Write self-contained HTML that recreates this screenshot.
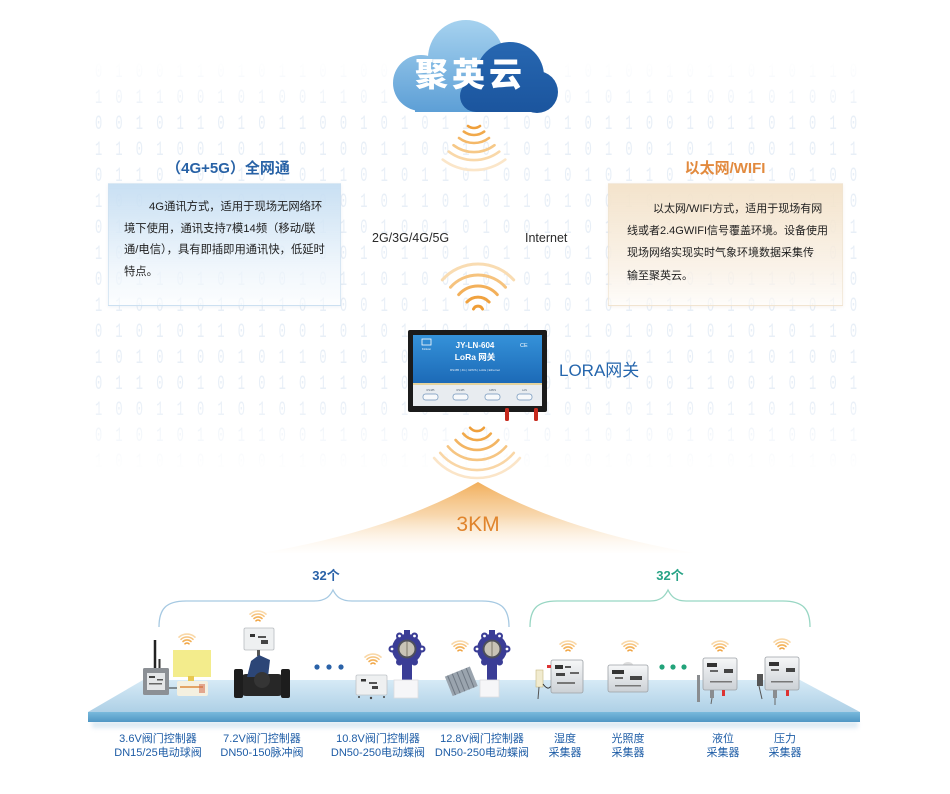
<!DOCTYPE html>
<html><head><meta charset="utf-8">
<style>
html,body{margin:0;padding:0;background:#fff;}
#wrap{position:relative;width:950px;height:794px;overflow:hidden;background:#fff;font-family:"Liberation Sans","Noto Sans CJK SC",sans-serif;}
#bg{position:absolute;left:95px;top:60px;width:770px;height:412px;overflow:hidden;-webkit-mask-image:linear-gradient(to bottom,transparent 0,#000 14%,#000 82%,transparent 100%);mask-image:linear-gradient(to bottom,transparent 0,#000 14%,#000 82%,transparent 100%);}
#bg pre{margin:0;font:20px/26px "Liberation Mono",monospace;letter-spacing:22px;color:#e8eff7;transform:scaleX(0.6);transform-origin:0 0;width:1300px;}
.box{position:absolute;height:121px;}
.box div{position:absolute;white-space:nowrap;color:#1e1e1e;line-height:22px;font-family:"Liberation Sans","Noto Sans CJK SC",sans-serif;}
#lb{left:108px;top:183px;width:231px;background:linear-gradient(to bottom,rgba(196,221,242,0.92),rgba(236,244,251,0.75) 70%,rgba(250,252,254,0.6));border:1px solid rgba(205,224,240,0.7);box-shadow:0 1px 3px rgba(120,150,180,0.12);}
#lb div{font-size:11.3px;}
#rb{left:608px;top:183px;width:233px;background:linear-gradient(to bottom,rgba(243,226,201,0.95),rgba(249,240,228,0.8) 70%,rgba(253,250,246,0.6));border:1px solid rgba(240,228,210,0.7);box-shadow:0 1px 3px rgba(180,150,120,0.12);}
#rb div{font-size:11px;}
</style></head><body><div id="wrap">

<div id="bg"><pre>01001101011010011100101101001011010110
10110010100110101001011010110100101001
00101101011001010110100101100101101010
11010010110100110010101101001011001011
01101001010110101101001010110100110100
10010110101001011010110100101001011010
01011010010110100101001101011010100101
10100101101001011010110010100101101001
00110101001011010010101101010010110110
11001010110100101101010010101101001010
01010110100101011010010110100101010110
10101001011010100101101001011010101001
01100101010110101001010110100110010101
10011010101001010110101001011001101010
01010101100110100101010110100101010011
10101010011001011010101001011010101100</pre></div>

<div class="box" id="lb">
  <div style="left:40px;top:12px;">4G通讯方式，适用于现场无网络环</div>
  <div style="left:15px;top:34px;">境下使用，通讯支持7模14频（移动/联</div>
  <div style="left:15px;top:55px;">通/电信），具有即插即用通讯快，低延时</div>
  <div style="left:15px;top:77px;">特点。</div>
</div>
<div class="box" id="rb">
  <div style="left:44px;top:14px;">以太网/WIFI方式，适用于现场有网</div>
  <div style="left:18px;top:36px;">线或者2.4GWIFI信号覆盖环境。设备使用</div>
  <div style="left:18px;top:58px;">现场网络实现实时气象环境数据采集传</div>
  <div style="left:18px;top:81px;">输至聚英云。</div>
</div>

<svg width="950" height="794" style="position:absolute;left:0;top:0" font-family="'Liberation Sans','Noto Sans CJK SC',sans-serif">
<defs>
  <linearGradient id="lc" x1="0" y1="20" x2="0" y2="112" gradientUnits="userSpaceOnUse"><stop offset="0" stop-color="#a6d2ef"/><stop offset="1" stop-color="#5d9fd6"/></linearGradient>
  <linearGradient id="dc" x1="0" y1="42" x2="0" y2="112" gradientUnits="userSpaceOnUse"><stop offset="0" stop-color="#2767b1"/><stop offset="1" stop-color="#1b559e"/></linearGradient>
  <linearGradient id="fan" x1="0" y1="482" x2="0" y2="556" gradientUnits="userSpaceOnUse"><stop offset="0" stop-color="#f1aa52" stop-opacity="0.95"/><stop offset="0.45" stop-color="#f5c68a" stop-opacity="0.7"/><stop offset="1" stop-color="#fdf1e2" stop-opacity="0"/></linearGradient>
  <linearGradient id="ptop" x1="0" y1="680" x2="0" y2="712" gradientUnits="userSpaceOnUse"><stop offset="0" stop-color="#d6eaf6"/><stop offset="1" stop-color="#aed0e6"/></linearGradient>
  <linearGradient id="pfront" x1="0" y1="712" x2="0" y2="723" gradientUnits="userSpaceOnUse"><stop offset="0" stop-color="#79b9dc"/><stop offset="1" stop-color="#4b93c1"/></linearGradient>
  <linearGradient id="gw" x1="0" y1="335" x2="0" y2="383" gradientUnits="userSpaceOnUse"><stop offset="0" stop-color="#3592d9"/><stop offset="1" stop-color="#1c6ab7"/></linearGradient>
  <linearGradient id="bx" x1="0" y1="0" x2="0" y2="1"><stop offset="0" stop-color="#f6f7f8"/><stop offset="1" stop-color="#ccd1d6"/></linearGradient>
  <filter id="bl" x="-10%" y="-100%" width="120%" height="300%"><feGaussianBlur stdDeviation="2"/></filter>
  <g id="wf" fill="none" stroke-width="1.6" stroke-linecap="round">
    <path d="M-2,-2.2 A3,3 0 0 1 2,-2.2" stroke="#f0a23f"/>
    <path d="M-4,-4.5 A6,6 0 0 1 4,-4.5" stroke="#f3b25a"/>
    <path d="M-6,-6.7 A9,9 0 0 1 6,-6.7" stroke="#f6c47f"/>
    <path d="M-8,-8.9 A12,12 0 0 1 8,-8.9" stroke="#f9d8a8"/>
  </g>
</defs>

<!-- cloud -->
<g fill="url(#lc)">
  <circle cx="466" cy="58" r="38"/>
  <circle cx="421" cy="83" r="28"/>
  <rect x="415" y="80" width="90" height="32"/>
</g>
<g fill="url(#dc)">
  <circle cx="510" cy="76" r="34"/>
  <circle cx="537" cy="92" r="21"/>
  <circle cx="476" cy="96" r="16"/>
  <rect x="476" y="90" width="62" height="22"/>
</g>
<text x="415" y="86" font-size="33" font-weight="900" fill="#fff" letter-spacing="4" font-family="'Noto Sans CJK SC',sans-serif">聚英云</text>

<!-- cloud wifi (down) -->
<g fill="none" stroke-width="2.6" stroke-linecap="round">
  <path d="M468,126 A10,10 0 0 0 480,126" stroke="#ef9f3a"/>
  <path d="M463.8,131.6 A17,17 0 0 0 484.2,131.6" stroke="#f1a94b"/>
  <path d="M459,138 A25,25 0 0 0 489,138" stroke="#f4b868"/>
  <path d="M453.5,145.2 A34,34 0 0 0 494.5,145.2" stroke="#f6c887"/>
  <path d="M448.7,151.6 A42,42 0 0 0 499.3,151.6" stroke="#f9d8a9"/>
  <path d="M442.7,159.6 A52,52 0 0 0 505.3,159.6" stroke="#fbe6c9"/>
</g>

<!-- headings -->
<text x="228" y="173" font-size="15" font-weight="bold" fill="#2862a6" text-anchor="middle">（4G+5G）全网通</text>
<text x="725" y="173" font-size="15" font-weight="bold" fill="#e28a3e" text-anchor="middle">以太网/WIFI</text>

<text x="372" y="242" font-size="12.5" fill="#2a2a2a">2G/3G/4G/5G</text>
<text x="525" y="242" font-size="12.5" fill="#2a2a2a">Internet</text>

<!-- middle wifi (up) -->
<g fill="none" stroke-width="3" stroke-linecap="round">
  <path d="M442.3,279.9 A48,48 0 0 1 513.7,279.9" stroke="#f9dcb2"/>
  <path d="M450.5,287.2 A37,37 0 0 1 505.5,287.2" stroke="#f6c37e"/>
  <path d="M458.7,294.6 A26,26 0 0 1 497.3,294.6" stroke="#f3b05a"/>
  <path d="M466.9,302 A15,15 0 0 1 489.1,302" stroke="#f0a23f"/>
</g>
<path d="M473.5,309 A5,5 0 0 1 482.5,309" fill="none" stroke="#ef9d36" stroke-width="3" stroke-linecap="round"/>

<!-- gateway -->
<rect x="408" y="330" width="139" height="82" rx="2" fill="#1b1b1b"/>
<rect x="413" y="335" width="129" height="48" fill="url(#gw)"/>
<rect x="413" y="383" width="129" height="2" fill="#e4d39e"/>
<rect x="413" y="385" width="129" height="21" fill="#e8ecf0"/>
<text x="475" y="348" font-size="8" font-weight="bold" fill="#fff" text-anchor="middle">JY-LN-604</text>
<text x="475" y="360" font-size="8.5" font-weight="bold" fill="#fff" text-anchor="middle">LoRa 网关</text>
<text x="475" y="371" font-size="3" fill="#e3ecf7" text-anchor="middle">RS485 | 4G | GPRS | LoRa | Ethernet</text>
<rect x="422" y="339" width="9" height="6" fill="none" stroke="#fff" stroke-width=".8"/>
<text x="426.5" y="350" font-size="3" fill="#fff" text-anchor="middle">Kinkon</text>
<text x="520" y="347" font-size="5.5" fill="#fff">CE</text>
<g fill="#f7f9fb" stroke="#6f93ba" stroke-width=".7">
  <rect x="423" y="394" width="15" height="6" rx="2.5"/>
  <rect x="453" y="394" width="15" height="6" rx="2.5"/>
  <rect x="485" y="394" width="15" height="6" rx="2.5"/>
  <rect x="517" y="394" width="15" height="6" rx="2.5"/>
</g>
<g font-size="2.6" fill="#567" text-anchor="middle">
  <text x="430.5" y="391">RS485</text><text x="460.5" y="391">RS485</text><text x="492.5" y="391">GPRS</text><text x="524.5" y="391">LAN</text>
</g>
<rect x="505" y="408" width="4" height="13" rx="1.5" fill="#c62a1e"/>
<rect x="534" y="408" width="4" height="13" rx="1.5" fill="#c62a1e"/>

<text x="559" y="376" font-size="17" fill="#2566ad">LORA网关</text>

<!-- gateway wifi (down) -->
<g fill="none" stroke-width="2.6" stroke-linecap="round">
  <path d="M470.1,427.8 A9,9 0 0 0 483.9,427.8" stroke="#ef9f3a"/>
  <path d="M463.2,433.6 A18,18 0 0 0 490.8,433.6" stroke="#f1a94a"/>
  <path d="M455.6,440 A28,28 0 0 0 498.4,440" stroke="#f3b563"/>
  <path d="M447.9,446.4 A38,38 0 0 0 506.1,446.4" stroke="#f6c582"/>
  <path d="M440.2,452.9 A48,48 0 0 0 513.8,452.9" stroke="#f9d6a6"/>
  <path d="M434.1,458 A56,56 0 0 0 519.9,458" stroke="#fbe5c8"/>
</g>

<!-- fan -->
<path d="M478,482 Q395,530 262,553 L694,553 Q561,530 478,482 Z" fill="url(#fan)"/>
<text x="478" y="531" font-size="21" fill="#e0842c" text-anchor="middle">3KM</text>

<!-- counts & braces -->
<text x="326" y="580" font-size="13" font-weight="bold" fill="#2a62a8" text-anchor="middle">32个</text>
<text x="670" y="580" font-size="13" font-weight="bold" fill="#27a386" text-anchor="middle">32个</text>
<path d="M159,627 C159,609 166,601 186,601 L314,601 C326,601 330,596 333,590 C336,596 340,601 352,601 L482,601 C502,601 509,609 509,627" fill="none" stroke="#a6c9e2" stroke-width="1.3"/>
<path d="M530,627 C530,609 537,601 557,601 L650,601 C661,601 665,596 668,590 C671,596 675,601 686,601 L783,601 C803,601 810,609 810,627" fill="none" stroke="#98d6c3" stroke-width="1.3"/>

<!-- platform -->
<rect x="92" y="721" width="766" height="7" fill="#cfe2ee" opacity=".7" filter="url(#bl)"/>
<polygon points="143,680 800,680 860,712 88,712" fill="url(#ptop)"/>
<polygon points="88,712 860,712 860,722 88,722" fill="url(#pfront)"/>

<!-- device group 1 -->
<line x1="155" y1="640" x2="155" y2="669" stroke="#222" stroke-width="2.5"/>
<line x1="159.5" y1="659" x2="159.5" y2="669" stroke="#333" stroke-width="2"/>
<rect x="143" y="668" width="26" height="27" rx="1.5" fill="#8c9095"/>
<rect x="147" y="673" width="18" height="17" fill="#e4e6e8"/>
<rect x="149" y="676" width="6" height="2" fill="#444"/><rect x="157" y="679" width="6" height="1.5" fill="#555"/><rect x="149" y="683" width="13" height="1.5" fill="#666"/>
<path d="M169,688 L178,688" stroke="#333" stroke-width="1"/>
<rect x="173" y="650" width="38" height="27" fill="#f3ec8c"/>
<rect x="188" y="676" width="6" height="5" fill="#e8c850"/>
<rect x="177" y="681" width="31" height="15" rx="2" fill="#f4f0e0"/>
<rect x="180" y="686" width="23" height="2" fill="#e3a466"/>
<rect x="199" y="684" width="6" height="9" fill="#d46a4a" opacity=".55"/>

<!-- device group 2 -->
<rect x="244" y="628" width="30" height="22" rx="1.5" fill="#eef0f1" stroke="#b8bcc0" stroke-width=".8"/>
<rect x="250" y="634" width="5" height="3" fill="#333"/><rect x="258" y="636" width="8" height="2" fill="#555"/><rect x="261" y="640" width="7" height="4" fill="#444"/>
<rect x="257" y="650" width="3" height="6" fill="#555"/>
<rect x="240" y="674" width="44" height="22" rx="6" fill="#272727"/>
<rect x="234" y="669" width="9" height="29" rx="2" fill="#1d1d1d"/>
<rect x="281" y="669" width="9" height="29" rx="2" fill="#1d1d1d"/>
<path d="M247,677 L251,661 L259,655 L270,660 L268,677 Z" fill="#2c4677"/>
<circle cx="262" cy="680" r="8" fill="#353535"/>

<!-- blue dots -->
<g fill="#2a62a8"><circle cx="317" cy="667" r="2.6"/><circle cx="329" cy="667" r="2.6"/><circle cx="341" cy="667" r="2.6"/></g>

<!-- device group 4 -->
<rect x="356" y="675" width="31" height="20" rx="1.5" fill="#eef0f1" stroke="#c0c4c8" stroke-width=".8"/>
<rect x="361" y="679" width="5" height="2.5" fill="#333"/><rect x="369" y="682" width="8" height="2" fill="#555"/><rect x="372" y="686" width="6" height="3" fill="#444"/>
<g fill="#444"><circle cx="359" cy="697" r="1"/><circle cx="371" cy="698" r="1.2"/><circle cx="384" cy="697" r="1"/></g>
<g>
  <rect x="404" y="630" width="6" height="5" fill="#3a3d96"/>
  <circle cx="407" cy="649" r="15" fill="#3a3d96"/>
  <g fill="#3a3d96"><circle cx="392" cy="649" r="3.5"/><circle cx="422" cy="649" r="3.5"/><circle cx="399.5" cy="636" r="3.5"/><circle cx="414.5" cy="636" r="3.5"/><circle cx="399.5" cy="662" r="3.5"/><circle cx="414.5" cy="662" r="3.5"/></g>
  <g fill="#fff"><circle cx="392" cy="649" r="1.4"/><circle cx="422" cy="649" r="1.4"/><circle cx="399.5" cy="636" r="1.4"/><circle cx="414.5" cy="636" r="1.4"/></g>
  <circle cx="407" cy="649" r="9.5" fill="#4d4f5c"/>
  <circle cx="407" cy="649" r="7.5" fill="#c8c3b6"/>
  <line x1="407" y1="641.5" x2="407" y2="656.5" stroke="#8a8578" stroke-width="1.2"/>
  <rect x="402" y="663" width="10" height="18" fill="#3a3d96"/>
  <rect x="394" y="680" width="24" height="18" fill="#f6f6f8" stroke="#dcdce0" stroke-width=".8"/>
</g>

<!-- device group 5 -->
<g transform="rotate(-22 461 682)">
  <rect x="448" y="671" width="27" height="21" fill="#9aa4ae"/>
  <g stroke="#6e7883" stroke-width="1"><line x1="451" y1="671" x2="451" y2="692"/><line x1="456" y1="671" x2="456" y2="692"/><line x1="461" y1="671" x2="461" y2="692"/><line x1="466" y1="671" x2="466" y2="692"/><line x1="471" y1="671" x2="471" y2="692"/></g>
</g>
<g>
  <rect x="489" y="630" width="6" height="5" fill="#3a3d96"/>
  <circle cx="492" cy="649" r="15" fill="#3a3d96"/>
  <g fill="#3a3d96"><circle cx="477" cy="649" r="3.5"/><circle cx="507" cy="649" r="3.5"/><circle cx="484.5" cy="636" r="3.5"/><circle cx="499.5" cy="636" r="3.5"/><circle cx="484.5" cy="662" r="3.5"/><circle cx="499.5" cy="662" r="3.5"/></g>
  <g fill="#fff"><circle cx="477" cy="649" r="1.4"/><circle cx="507" cy="649" r="1.4"/><circle cx="484.5" cy="636" r="1.4"/><circle cx="499.5" cy="636" r="1.4"/></g>
  <circle cx="492" cy="649" r="9.5" fill="#4d4f5c"/>
  <circle cx="492" cy="649" r="7.5" fill="#c8c3b6"/>
  <line x1="492" y1="641.5" x2="492" y2="656.5" stroke="#8a8578" stroke-width="1.2"/>
  <rect x="487" y="663" width="10" height="18" fill="#3a3d96"/>
  <rect x="480" y="680" width="19" height="17" fill="#f6f6f8" stroke="#dcdce0" stroke-width=".8"/>
</g>

<!-- sensors -->
<rect x="536" y="670" width="7" height="17" fill="#f1ebcf" stroke="#c9b880" stroke-width=".6"/>
<path d="M543,684 Q548,691 551,686" fill="none" stroke="#333" stroke-width="1"/>
<line x1="539" y1="687" x2="538" y2="699" stroke="#555" stroke-width="1"/>
<rect x="551" y="660" width="32" height="33" rx="2" fill="url(#bx)" stroke="#9ca1a6" stroke-width=".8"/>
<rect x="555" y="665" width="8" height="4" fill="#333"/><rect x="565" y="666" width="6" height="2" fill="#555"/><rect x="556" y="673" width="9" height="3" fill="#444"/><rect x="570" y="672" width="9" height="2" fill="#666"/><rect x="557" y="682" width="18" height="2" fill="#777"/>
<rect x="547" y="665" width="4" height="3" fill="#d33"/>

<ellipse cx="628" cy="665" rx="5" ry="3" fill="#dcdcdc"/>
<rect x="608" y="665" width="40" height="27" rx="2" fill="url(#bx)" stroke="#9ca1a6" stroke-width=".8"/>
<rect x="612" y="670" width="12" height="4" fill="#333"/><rect x="615" y="677" width="8" height="2" fill="#666"/><rect x="630" y="676" width="12" height="4" fill="#444"/><rect x="615" y="685" width="26" height="1.5" fill="#777"/>

<g fill="#22a37a"><circle cx="662" cy="667" r="2.6"/><circle cx="673" cy="667" r="2.6"/><circle cx="684" cy="667" r="2.6"/></g>

<rect x="697" y="675" width="3" height="27" fill="#8a8d90"/>
<rect x="703" y="658" width="34" height="32" rx="2" fill="url(#bx)" stroke="#9ca1a6" stroke-width=".8"/>
<rect x="707" y="663" width="10" height="4" fill="#333"/><rect x="710" y="670" width="8" height="2" fill="#666"/><rect x="724" y="669" width="9" height="4" fill="#444"/><rect x="710" y="681" width="22" height="1.5" fill="#777"/>
<rect x="710" y="690" width="4" height="8" fill="#8a8d90"/><rect x="722" y="690" width="3" height="6" fill="#d33"/>
<line x1="712" y1="698" x2="711" y2="704" stroke="#666" stroke-width="1"/>

<rect x="757" y="674" width="6" height="12" fill="#555"/>
<line x1="759" y1="686" x2="762" y2="699" stroke="#555" stroke-width="1"/>
<rect x="765" y="657" width="34" height="33" rx="2" fill="url(#bx)" stroke="#9ca1a6" stroke-width=".8"/>
<rect x="769" y="662" width="10" height="4" fill="#333"/><rect x="771" y="669" width="8" height="2" fill="#666"/><rect x="786" y="668" width="9" height="4" fill="#444"/><rect x="771" y="681" width="22" height="1.5" fill="#777"/>
<rect x="773" y="690" width="4" height="8" fill="#8a8d90"/><rect x="786" y="690" width="3" height="6" fill="#d33"/>
<line x1="775" y1="698" x2="775" y2="705" stroke="#666" stroke-width="1"/>

<!-- small wifi icons -->
<use href="#wf" x="187" y="646"/>
<use href="#wf" x="258" y="623"/>
<use href="#wf" x="373" y="666"/>
<use href="#wf" x="460" y="653"/>
<use href="#wf" x="568" y="653"/>
<use href="#wf" x="630" y="653"/>
<use href="#wf" x="720" y="653"/>
<use href="#wf" x="782" y="651"/>

<!-- labels -->
<g font-size="11" fill="#1d5ca6" text-anchor="middle">
  <text x="158" y="742">3.6V阀门控制器</text><text x="158" y="756">DN15/25电动球阀</text>
  <text x="262" y="742">7.2V阀门控制器</text><text x="262" y="756">DN50-150脉冲阀</text>
  <text x="378" y="742">10.8V阀门控制器</text><text x="378" y="756">DN50-250电动蝶阀</text>
  <text x="482" y="742">12.8V阀门控制器</text><text x="482" y="756">DN50-250电动蝶阀</text>
  <text x="565" y="742">湿度</text><text x="565" y="756">采集器</text>
  <text x="628" y="742">光照度</text><text x="628" y="756">采集器</text>
  <text x="723" y="742">液位</text><text x="723" y="756">采集器</text>
  <text x="785" y="742">压力</text><text x="785" y="756">采集器</text>
</g>
</svg>
</div></body></html>
